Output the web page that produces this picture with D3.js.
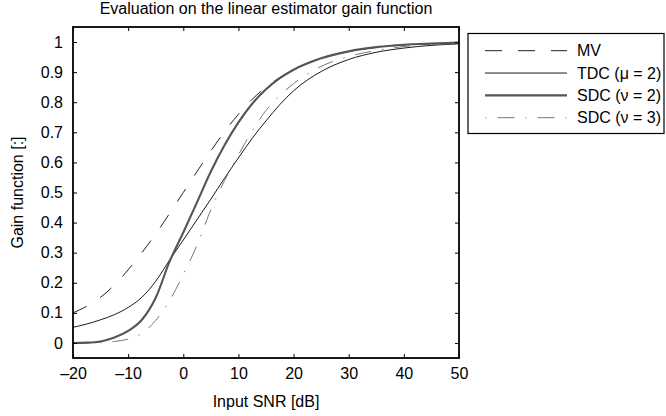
<!DOCTYPE html>
<html>
<head>
<meta charset="utf-8">
<script src="https://cdn.jsdelivr.net/npm/d3@7"></script>
<style>
  html, body { margin: 0; padding: 0; background: #fff; }
  svg { display: block; }
  text { font-family: "Liberation Sans", Arial, Helvetica, sans-serif; fill: #000; }
</style>
</head>
<body>
<svg id="chart" width="666" height="416"></svg>
<script>
// ---- data ----
const snrDb = [-20, -17.5, -15, -12.5, -10, -7.5, -5, -2.5, 0, 2.5, 5, 7.5, 10, 12.5, 15, 17.5, 20, 25, 30, 35, 40, 45, 50];
const gainMV   = [0.100, 0.122, 0.152, 0.192, 0.243, 0.300, 0.362, 0.430, 0.500, 0.570, 0.638, 0.703, 0.760, 0.810, 0.850, 0.882, 0.907, 0.945, 0.969, 0.982, 0.990, 0.994, 0.997];
const gainTDC2 = [0.052, 0.063, 0.077, 0.094, 0.118, 0.152, 0.205, 0.275, 0.342, 0.410, 0.478, 0.548, 0.615, 0.680, 0.738, 0.792, 0.838, 0.902, 0.942, 0.966, 0.980, 0.989, 0.994];
const gainSDC2 = [0.000, 0.001, 0.005, 0.018, 0.040, 0.077, 0.150, 0.270, 0.367, 0.468, 0.570, 0.658, 0.733, 0.795, 0.843, 0.880, 0.908, 0.946, 0.969, 0.983, 0.991, 0.995, 0.998];
const gainSDC3 = [0.000, 0.000, 0.001, 0.005, 0.013, 0.032, 0.075, 0.140, 0.228, 0.325, 0.443, 0.540, 0.625, 0.705, 0.773, 0.822, 0.862, 0.919, 0.952, 0.972, 0.985, 0.992, 0.996];
const seriesNames = ["MV", "TDC (\u03bc = 2)", "SDC (\u03bd = 2)", "SDC (\u03bd = 3)"];
const xTicks = [-20, -10, 0, 10, 20, 30, 40, 50];
const yTicks = [0, 0.1, 0.2, 0.3, 0.4, 0.5, 0.6, 0.7, 0.8, 0.9, 1];
const titleText = "Evaluation on the linear estimator gain function";
const xLabel = "Input SNR [dB]";
const yLabel = "Gain function [:]";

// ---- layout ----
const L = 73, R = 459, T = 27, B = 358;
const svg = d3.select("#chart");
const x = d3.scaleLinear().domain([-20, 50]).range([L, R]);
const y = d3.scaleLinear().domain([-0.05, 1.05]).range([B, T]);

const styles = [
  { stroke: "#222", width: 1,   dash: "15,16" },
  { stroke: "#000", width: 0.9, dash: null },
  { stroke: "#555", width: 2.1, dash: null },
  { stroke: "#777", width: 1,   dash: "16,11,1.5,11" }
];
const allSeries = [gainMV, gainTDC2, gainSDC2, gainSDC3];

// clip
svg.append("defs").append("clipPath").attr("id", "clip")
  .append("rect").attr("x", L).attr("y", T).attr("width", R - L).attr("height", B - T);

const line = d3.line()
  .x((d, i) => x(snrDb[i]))
  .y(d => y(d))
  .curve(d3.curveMonotoneX);

const plot = svg.append("g").attr("clip-path", "url(#clip)");
// draw order: thin, dash-dot, dashed, thick
[1, 3, 0, 2].forEach(k => {
  plot.append("path")
    .attr("d", line(allSeries[k]))
    .attr("fill", "none")
    .attr("stroke", styles[k].stroke)
    .attr("stroke-width", styles[k].width)
    .attr("stroke-dasharray", styles[k].dash)
    .attr("stroke-linejoin", "round");
});

// axes (ticks inward, on all four sides)
const fmtX = d => d < 0 ? "\u2013" + Math.abs(d) : String(d);
const fmtY = d => String(+d.toFixed(1));
const tickLen = 4;

const xAxisB = d3.axisBottom(x).tickValues(xTicks).tickFormat(fmtX).tickSizeInner(-tickLen).tickSizeOuter(0).tickPadding(10);
const gB = svg.append("g").attr("transform", `translate(0,${B})`).call(xAxisB);
const xAxisT = d3.axisTop(x).tickValues(xTicks).tickFormat("").tickSizeInner(-tickLen).tickSizeOuter(0);
const gT = svg.append("g").attr("transform", `translate(0,${T})`).call(xAxisT);
const yAxisL = d3.axisLeft(y).tickValues(yTicks).tickFormat(fmtY).tickSizeInner(-tickLen).tickSizeOuter(0).tickPadding(10);
const gL = svg.append("g").attr("transform", `translate(${L},0)`).call(yAxisL);
const yAxisR = d3.axisRight(y).tickValues(yTicks).tickFormat("").tickSizeInner(-tickLen).tickSizeOuter(0);
const gR = svg.append("g").attr("transform", `translate(${R},0)`).call(yAxisR);

[gB, gT, gL, gR].forEach(g => {
  g.select(".domain").remove();
  g.selectAll(".tick line").attr("stroke", "#000").attr("stroke-width", 1);
  g.selectAll("text").attr("font-size", 16).attr("font-family", "Liberation Sans, Arial, sans-serif").attr("fill", "#000");
});

// frame
svg.append("rect").attr("x", L).attr("y", T).attr("width", R - L).attr("height", B - T)
  .attr("fill", "none").attr("stroke", "#000").attr("stroke-width", 1.8);

// title & labels
svg.append("text").attr("x", (L + R) / 2).attr("y", 14).attr("text-anchor", "middle")
  .attr("font-size", 16).text(titleText);
svg.append("text").attr("x", (L + R) / 2).attr("y", 407).attr("text-anchor", "middle")
  .attr("font-size", 16).text(xLabel);
svg.append("text").attr("transform", `translate(23,${(T + B) / 2}) rotate(-90)`).attr("text-anchor", "middle")
  .attr("font-size", 16).text(yLabel);

// legend
const lg = svg.append("g");
lg.append("rect").attr("x", 468).attr("y", 33.5).attr("width", 196).attr("height", 100)
  .attr("fill", "#fff").attr("stroke", "#000").attr("stroke-width", 1.2);
const legY = d3.scaleLinear().domain([0, 3]).range([50.7, 117.7]);
seriesNames.forEach((name, k) => {
  const yy = legY(k);
  lg.append("line").attr("x1", 485).attr("x2", 567).attr("y1", yy).attr("y2", yy)
    .attr("stroke", styles[k].stroke).attr("stroke-width", styles[k].width)
    .attr("stroke-dasharray", k === 0 ? "17,16" : (k === 3 ? "1,11,17,11" : null))
    .attr("stroke-dashoffset", k === 0 ? 0 : (k === 3 ? -0.5 : 0));
  lg.append("text").attr("x", 577).attr("y", yy).attr("dy", "0.36em")
    .attr("font-size", 16).text(name);
});
</script>
</body>
</html>
